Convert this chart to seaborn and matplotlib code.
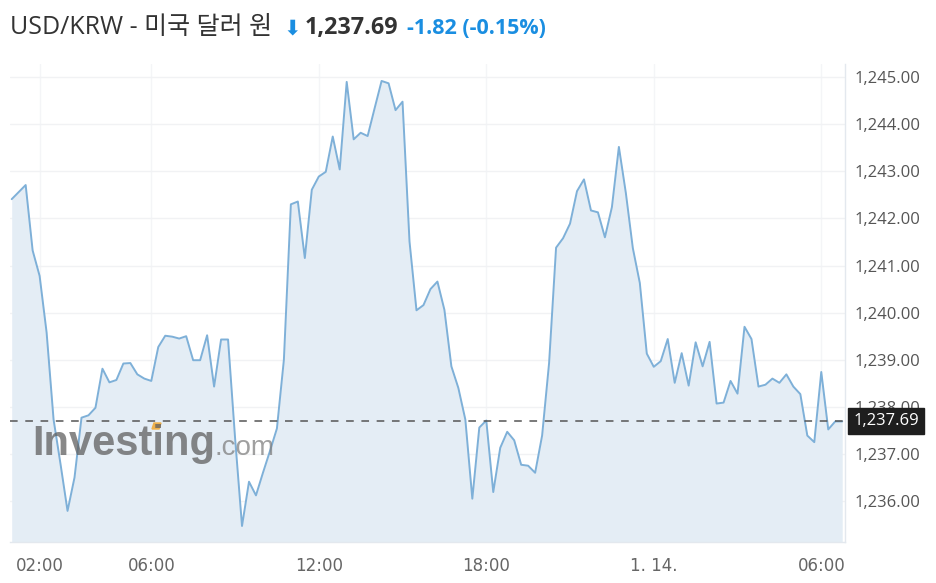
import seaborn as sns
import matplotlib.pyplot as plt
from matplotlib.ticker import FuncFormatter
import pandas as pd

# USD/KRW 15-minute quotes, 13 Jan 01:00 -> 14 Jan 06:45
times = pd.date_range("2023-01-13 01:00", periods=120, freq="15min")
prices = [
    1242.41, 1242.56, 1242.71, 1241.32, 1240.78, 1239.58, 1237.73, 1236.78, 1235.79, 1236.50,
    1237.77, 1237.82, 1237.98, 1238.81, 1238.52, 1238.57, 1238.92, 1238.93, 1238.69, 1238.60,
    1238.55, 1239.27, 1239.51, 1239.49, 1239.45, 1239.50, 1238.99, 1238.99, 1239.52, 1238.43,
    1239.43, 1239.43, 1237.35, 1235.47, 1236.41, 1236.12, 1236.60, 1237.06, 1237.54, 1239.00,
    1242.30, 1242.36, 1241.16, 1242.61, 1242.89, 1242.99, 1243.74, 1243.04, 1244.90, 1243.68,
    1243.82, 1243.75, 1244.34, 1244.92, 1244.87, 1244.30, 1244.48, 1241.51, 1240.05, 1240.16,
    1240.50, 1240.66, 1240.06, 1238.86, 1238.40, 1237.73, 1236.05, 1237.56, 1237.71, 1236.19,
    1237.13, 1237.47, 1237.29, 1236.77, 1236.75, 1236.60, 1237.39, 1238.93, 1241.38, 1241.58,
    1241.89, 1242.58, 1242.83, 1242.17, 1242.13, 1241.60, 1242.24, 1243.52, 1242.54, 1241.37,
    1240.63, 1239.13, 1238.85, 1238.97, 1239.44, 1238.51, 1239.14, 1238.45, 1239.37, 1238.86,
    1239.38, 1238.07, 1238.09, 1238.55, 1238.28, 1239.70, 1239.44, 1238.43, 1238.47, 1238.60,
    1238.51, 1238.69, 1238.43, 1238.27, 1237.39, 1237.25, 1238.74, 1237.52, 1237.69, 1237.69,
]
last_price = 1237.69
change = "-1.82 (-0.15%)"

tick_times = pd.to_datetime(["2023-01-13 02:00", "2023-01-13 06:00", "2023-01-13 12:00",
                             "2023-01-13 18:00", "2023-01-14 00:00", "2023-01-14 06:00"])
tick_labels = ["02:00", "06:00", "12:00", "18:00", "1. 14.", "06:00"]
price_ticks = [1236, 1237, 1238, 1239, 1240, 1241, 1242, 1243, 1244, 1245]

df = pd.DataFrame({"time": times, "price": prices})

sns.set_style("white")
plt.rcParams["font.family"] = ["Open Sans", "Noto Sans CJK KR", "DejaVu Sans"]

fig = plt.figure(figsize=(9.37, 5.83), dpi=100)
ax = fig.add_axes([10 / 937, 1 - 542 / 583, 835 / 937, 478 / 583])

line_color = "#7eb0d8"
ax.fill_between(df["time"], df["price"], 1234.0, color="#e4edf5", zorder=1, lw=0)
sns.lineplot(data=df, x="time", y="price", ax=ax, color=line_color, linewidth=1.4, zorder=3)

ax.set_xlim(pd.Timestamp("2023-01-13 00:56:20"), pd.Timestamp("2023-01-14 06:51:00"))
ax.set_ylim(1235.13, 1245.28)

# grid
ax.set_yticks(price_ticks)
ax.set_xticks(tick_times)
ax.set_xticklabels(tick_labels)
ax.grid(True, axis="y", color="#f1f2f4", linewidth=1, zorder=0)
ax.grid(True, axis="x", color="#f4f5f7", linewidth=1, zorder=0)
ax.set_axisbelow(True)

# right axis labels
ax.yaxis.tick_right()
ax.yaxis.set_major_formatter(FuncFormatter(lambda v, p: f"{v:,.2f}"))
ax.tick_params(axis="y", length=0, pad=7, labelsize=12, labelcolor="#555555")
ax.tick_params(axis="x", length=0, pad=11, labelsize=12, labelcolor="#666666")
for lab in ax.get_xticklabels():
    lab.set_fontfamily(["Liberation Sans Narrow", "DejaVu Sans"])
ax.set_xlabel("")
ax.set_ylabel("")

for side in ["left", "top"]:
    ax.spines[side].set_visible(False)
for side in ["right", "bottom"]:
    ax.spines[side].set_color("#e3e8ee")
    ax.spines[side].set_linewidth(1)

# last price marker
ax.axhline(last_price, color="#555555", linestyle=(0, (5, 5)), linewidth=1.1, zorder=4)
ax.annotate(f"{last_price:,.2f}", xy=(1.0, last_price), xycoords=ax.get_yaxis_transform(),
            xytext=(6, 0), textcoords="offset points",
            ha="left", va="center", color="white", fontsize=12, zorder=5,
            bbox=dict(boxstyle="square,pad=0.3", fc="#1e1e1e", ec="#1e1e1e"), annotation_clip=False)

# watermark
fig.text(32 / 937, 1 - 455 / 583, "Investing", fontsize=30, fontweight="bold",
         family=["Liberation Sans", "DejaVu Sans"], color="#606060", alpha=0.75, zorder=2)
fig.text(215 / 937, 1 - 455 / 583, ".com", fontsize=20,
         family=["Liberation Sans", "DejaVu Sans"], color="#808080", alpha=0.75, zorder=2)
fig.patches.append(plt.Polygon([(152 / 937, 1 - 429 / 583), (159 / 937, 1 - 429 / 583),
                                (161 / 937, 1 - 423 / 583), (154 / 937, 1 - 423 / 583)],
                               closed=True, transform=fig.transFigure, color="#f0b14a", zorder=2))

# header
ty = 1 - 28 / 583
fig.text(10 / 937, ty, "USD/KRW - 미국 달러 원", fontsize=18, color="#333333", va="center")
fig.text(283 / 937, ty, "\u2b07", fontsize=15, color="#1a8ee1", va="center", family="DejaVu Sans")
fig.text(305 / 937, ty, f"{last_price:,.2f}", fontsize=16.8, fontweight="bold", color="#333333", va="center")
fig.text(407 / 937, ty, change, fontsize=15.5, fontweight="bold", color="#1a8ee1", va="center")

plt.savefig("out.png", dpi=100)
